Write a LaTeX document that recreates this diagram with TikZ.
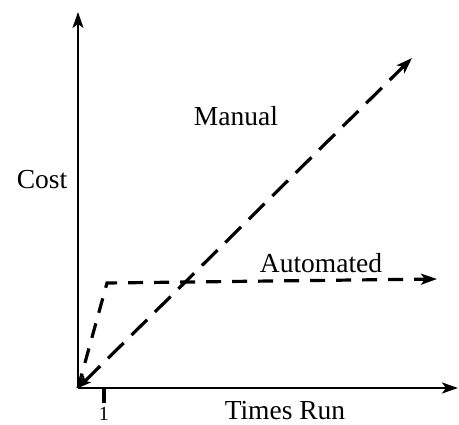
\documentclass[tikz,border=0pt]{standalone}
\usepackage{fontspec}
\setmainfont{Liberation Serif}
\usetikzlibrary{arrows.meta}
\begin{document}
\begin{tikzpicture}[x=1pt,y=1pt,
  axis/.style={line width=2.4pt,-{Stealth[length=16pt,width=11pt,inset=4pt]}},
  costline/.style={line width=3.2pt},
  lbl/.style={font=\fontsize{27.5}{32}\selectfont,inner sep=0pt}]
\useasboundingbox (0,0) rectangle (459,425);
% points of the chart
\coordinate (O) at (78,37);
\coordinate (ytop) at (78,413);
\coordinate (xend) at (458,37);
\coordinate (mend) at (412,367);
\coordinate (acorner) at (107,142);
\coordinate (aend) at (437,146);
\coordinate (tickA) at (104,37);
\coordinate (tickB) at (104,22);
% axes
\draw[axis] (O) -- (ytop);
\draw[axis] (O) -- (xend);
% tick at one run
\draw[line width=3.6pt] (tickA) -- (tickB);
% manual cost
\draw[costline,dash pattern=on 22pt off 11pt,
  {Stealth[length=13pt,width=10pt,inset=3pt]}-{Stealth[length=16pt,width=11pt,inset=4pt]}] (O) -- (mend);
% automated cost
\draw[costline,dash pattern=on 15pt off 11pt,-{Stealth[length=16pt,width=11pt,inset=4pt]}]
  (O) -- (acorner) -- (aend);
% labels
\node[lbl] (cost) at (42,245) {Cost};
\node[lbl] (manual) at (236,309) {Manual};
\node[lbl] (auto) at (321,162) {Automated};
\node[lbl] (times) at (285,14) {Times Run};
\node[lbl,font=\fontsize{20}{24}\selectfont] (one) at (104,11) {1};
\end{tikzpicture}
\end{document}
